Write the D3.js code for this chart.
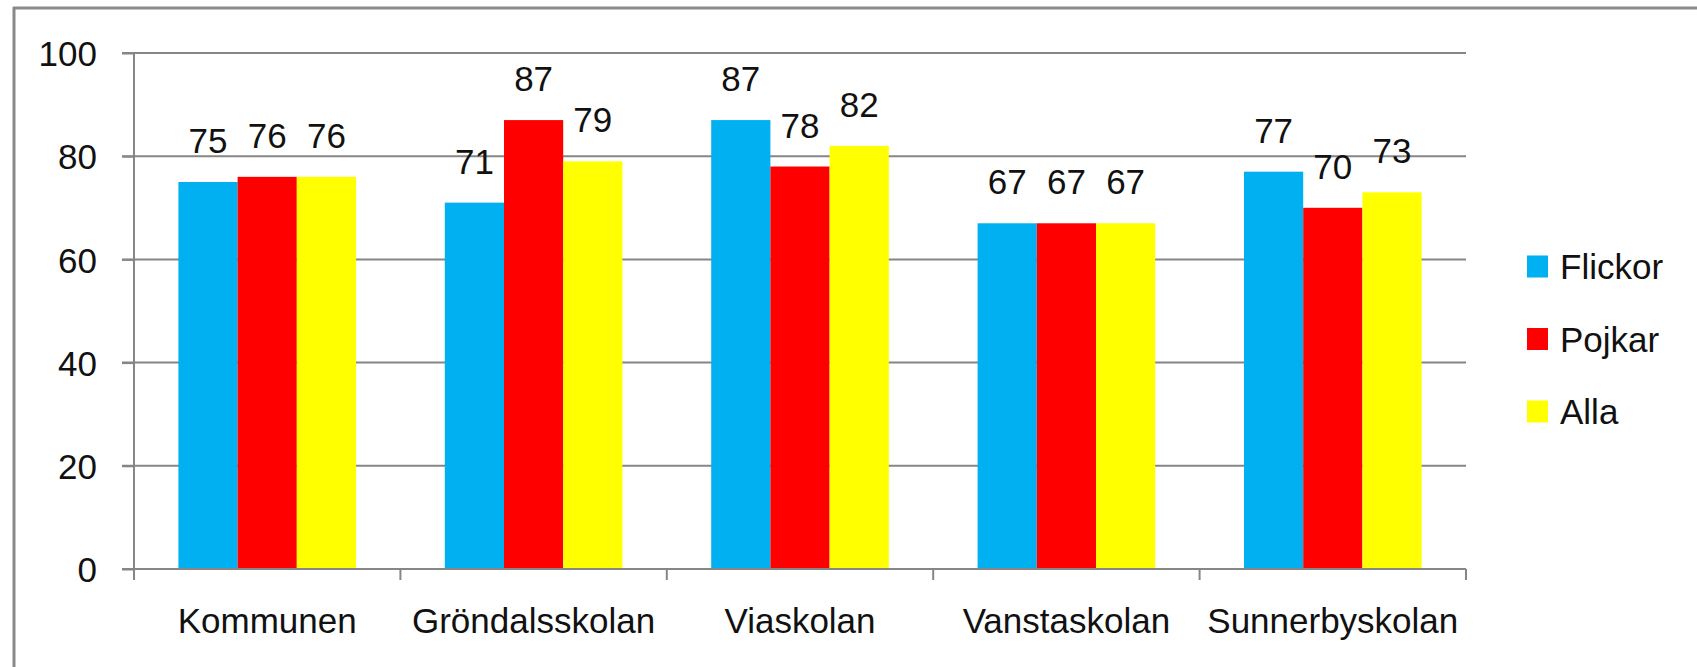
<!DOCTYPE html>
<html>
<head>
<meta charset="utf-8">
<script src="https://cdn.jsdelivr.net/npm/d3@7"></script>
<style>
  body { margin: 0; background: #fff; }
  text { font-family: "Liberation Sans", Arial, sans-serif; fill: #111; }
</style>
</head>
<body>
<svg id="chart" width="1697" height="667"></svg>
<script>
// chart data
var categories = ["Kommunen", "Gröndalsskolan", "Viaskolan", "Vanstaskolan", "Sunnerbyskolan"];
var seriesNames = ["Flickor", "Pojkar", "Alla"];
var flickor = [75, 71, 87, 67, 77];
var pojkar = [76, 87, 78, 67, 70];
var alla = [76, 79, 82, 67, 73];
var yTicks = [0, 20, 40, 60, 80, 100];

var colors = ["#00b0f0", "#ff0000", "#ffff00"];
var values = [flickor, pojkar, alla];

var svg = d3.select('#chart');
var fontSize = 35;

// frame lines (left + top)
svg.append('line').attr('x1', 14).attr('x2', 14).attr('y1', 7).attr('y2', 667)
    .attr('stroke', '#8a8a8a').attr('stroke-width', 3);
svg.append('line').attr('x1', 13).attr('x2', 1697).attr('y1', 8).attr('y2', 8)
    .attr('stroke', '#8a8a8a').attr('stroke-width', 3);

var x = d3.scaleBand().domain(categories).range([134, 1466]).paddingInner(0).paddingOuter(0);
var xs = d3.scaleBand().domain(seriesNames).range([0, x.bandwidth()]).paddingInner(0).paddingOuter(0.75);
var y = d3.scaleLinear().domain([0, 100]).range([569, 53]);

// gridlines
svg.append('g').selectAll('line').data(yTicks.filter(function(d){ return d > 0; }))
    .enter().append('line')
    .attr('x1', 122).attr('x2', 1466)
    .attr('y1', function(d){ return y(d); }).attr('y2', function(d){ return y(d); })
    .attr('stroke', '#868686').attr('stroke-width', 2);

// bars
var rows = [];
categories.forEach(function(c, i){
    seriesNames.forEach(function(s, j){
        rows.push({cat: c, s: s, v: values[j][i], color: colors[j]});
    });
});
svg.append('g').selectAll('rect').data(rows).enter().append('rect')
    .attr('x', function(d){ return x(d.cat) + xs(d.s); })
    .attr('y', function(d){ return y(d.v); })
    .attr('width', xs.bandwidth())
    .attr('height', function(d){ return y(0) - y(d.v); })
    .attr('fill', function(d){ return d.color; });

// data labels
svg.append('g').selectAll('text').data(rows).enter().append('text')
    .attr('x', function(d){ return x(d.cat) + xs(d.s) + xs.bandwidth() / 2; })
    .attr('y', function(d){ return y(d.v) - 29; })
    .attr('text-anchor', 'middle')
    .style('font-size', fontSize + 'px')
    .text(function(d){ return d.v; });

// y axis
var yAxis = d3.axisLeft(y).tickValues(yTicks).tickSize(12).tickPadding(25);
var gy = svg.append('g').attr('transform', 'translate(134,0)').call(yAxis);
gy.select('.domain').attr('stroke', '#868686').attr('stroke-width', 2).attr('d', 'M0,' + y(100) + 'V' + y(0));
gy.selectAll('.tick line').attr('stroke', '#868686').attr('stroke-width', 2);
gy.selectAll('.tick text').style('font-size', fontSize + 'px').style('font-family', '"Liberation Sans", Arial, sans-serif')
    .attr('fill', '#111').attr('dy', '0.36em');

// x axis line + boundary ticks
svg.append('line').attr('x1', 122).attr('x2', 1466).attr('y1', y(0)).attr('y2', y(0))
    .attr('stroke', '#868686').attr('stroke-width', 2);
var bounds = categories.map(function(c){ return x(c); }).concat([x.range()[1]]);
svg.append('g').selectAll('line').data(bounds).enter().append('line')
    .attr('x1', function(d){ return d; }).attr('x2', function(d){ return d; })
    .attr('y1', y(0)).attr('y2', y(0) + 11)
    .attr('stroke', '#868686').attr('stroke-width', 2);
svg.append('g').selectAll('text').data(categories).enter().append('text')
    .attr('x', function(d){ return x(d) + x.bandwidth() / 2; })
    .attr('y', 633)
    .attr('text-anchor', 'middle')
    .style('font-size', fontSize + 'px')
    .text(function(d){ return d; });

// legend
var legend = svg.append('g').selectAll('g').data(seriesNames).enter().append('g')
    .attr('transform', function(d, i){ return 'translate(1527,' + (266.5 + i * 72.5) + ')'; });
legend.append('rect').attr('x', 0).attr('y', -11).attr('width', 21).attr('height', 22)
    .attr('fill', function(d, i){ return colors[i]; });
legend.append('text').attr('x', 33).attr('y', 12.5)
    .style('font-size', fontSize + 'px')
    .text(function(d){ return d; });
</script>
</body>
</html>
